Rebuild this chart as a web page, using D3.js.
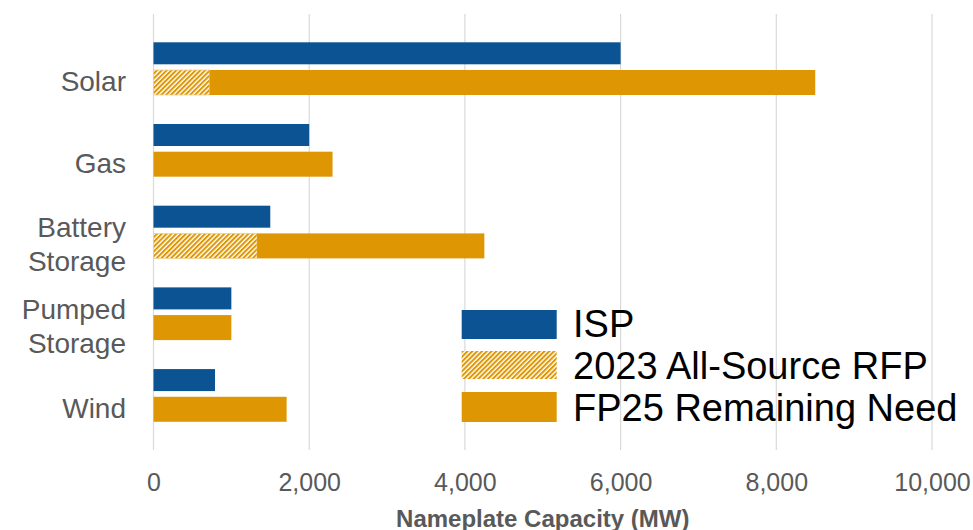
<!DOCTYPE html>
<html>
<head>
<meta charset="utf-8">
<script src="https://cdn.jsdelivr.net/npm/d3@7/dist/d3.min.js"></script>
<style>
  html, body { margin: 0; padding: 0; background: #ffffff; }
  svg { display: block; font-family: "Liberation Sans", Arial, sans-serif; }
</style>
</head>
<body>
<svg id="chart" width="973" height="530"></svg>
<script>
// Resource categories (top to bottom); multi-line labels split on "\n"
const categories = ["Solar", "Gas", "Battery\nStorage", "Pumped\nStorage", "Wind"];
// Nameplate capacity, MW
const ispValues = [6000, 2000, 1500, 1000, 790];
const rfpValues = [720, 0, 1330, 0, 0];          // 2023 All-Source RFP portion
const remainingValues = [7780, 2300, 2920, 1000, 1710]; // FP25 remaining need beyond the RFP
const xTicks = [0, 2000, 4000, 6000, 8000, 10000];
const legendLabels = ["ISP", "2023 All-Source RFP", "FP25 Remaining Need"];

const BLUE = "#0B5393";
const ORANGE = "#DE9703";
const GRID = "#d9d9d9";
const TEXT_GRAY = "#595959";

const svg = d3.select("#chart");

const x = d3.scaleLinear().domain([0, 10000]).range([153.5, 932]);
const y = d3.scaleBand()
  .domain(categories)
  .range([42.3, 422.1])
  .paddingInner(0.351)
  .paddingOuter(0);

// Hatch pattern for the RFP segment
const defs = svg.append("defs");
const pat = defs.append("pattern")
  .attr("id", "hatch")
  .attr("patternUnits", "userSpaceOnUse")
  .attr("width", 3.4)
  .attr("height", 3.4)
  .attr("patternTransform", "rotate(45)");
pat.append("rect").attr("width", 3.4).attr("height", 3.4).attr("fill", "#ffffff");
pat.append("rect").attr("width", 2.0).attr("height", 3.4).attr("fill", ORANGE);

// Vertical gridlines
svg.append("g")
  .selectAll("line")
  .data(xTicks)
  .join("line")
  .attr("x1", d => x(d)).attr("x2", d => x(d))
  .attr("y1", 14).attr("y2", 450)
  .attr("stroke", GRID)
  .attr("stroke-width", 1.2);

// Bars
const ispH = 22;
const fpTop = 27.7;
const fpH = 25;

const rows = categories.map((c, i) => ({
  cat: c,
  isp: ispValues[i],
  rfp: rfpValues[i],
  rem: remainingValues[i]
}));

const bars = svg.append("g");
bars.selectAll(".isp")
  .data(rows)
  .join("rect")
  .attr("class", "isp")
  .attr("x", x(0))
  .attr("y", d => y(d.cat))
  .attr("width", d => x(d.isp) - x(0))
  .attr("height", ispH)
  .attr("fill", BLUE);

bars.selectAll(".rfp")
  .data(rows.filter(d => d.rfp > 0))
  .join("rect")
  .attr("class", "rfp")
  .attr("x", x(0))
  .attr("y", d => y(d.cat) + fpTop)
  .attr("width", d => x(d.rfp) - x(0))
  .attr("height", fpH)
  .attr("fill", "url(#hatch)")
  .attr("stroke", "#f0cf8a")
  .attr("stroke-width", 0.8);

bars.selectAll(".rem")
  .data(rows)
  .join("rect")
  .attr("class", "rem")
  .attr("x", d => x(d.rfp))
  .attr("y", d => y(d.cat) + fpTop)
  .attr("width", d => x(d.rfp + d.rem) - x(d.rfp))
  .attr("height", fpH)
  .attr("fill", ORANGE);

// Category labels
const labelG = svg.append("g");
rows.forEach(d => {
  const lines = d.cat.split("\n");
  const cy = y(d.cat) + y.bandwidth() / 2 + 12;
  const lh = 34;
  const t = labelG.append("text")
    .attr("text-anchor", "end")
    .attr("font-size", 28)
    .attr("fill", TEXT_GRAY);
  lines.forEach((ln, k) => {
    t.append("tspan")
      .attr("x", 126)
      .attr("y", cy + (k - (lines.length - 1) / 2) * lh + 10)
      .text(ln);
  });
});

// X tick labels
const xAxis = d3.axisBottom(x)
  .tickValues(xTicks)
  .tickSize(0)
  .tickPadding(0)
  .tickFormat(d3.format(","));
const axG = svg.append("g")
  .attr("transform", "translate(0,473)")
  .call(xAxis);
axG.select(".domain").remove();
axG.selectAll("text")
  .attr("font-family", "'Liberation Sans', Arial, sans-serif")
  .attr("font-size", 25)
  .attr("fill", TEXT_GRAY);

// Axis title
svg.append("text")
  .attr("x", (x(0) + x(10000)) / 2)
  .attr("y", 527)
  .attr("text-anchor", "middle")
  .attr("font-size", 24)
  .attr("font-weight", "bold")
  .attr("fill", TEXT_GRAY)
  .text("Nameplate Capacity (MW)");

// Legend
const legend = svg.append("g");
const legendFills = [BLUE, "url(#hatch)", ORANGE];
const swY = [310, 351, 392];
const swH = [29, 28, 30];
legendLabels.forEach((lab, i) => {
  legend.append("rect")
    .attr("x", 461.7)
    .attr("y", swY[i])
    .attr("width", 95)
    .attr("height", swH[i])
    .attr("fill", legendFills[i]);
  legend.append("text")
    .attr("x", 573)
    .attr("y", [337, 379, 421][i])
    .attr("font-size", 38)
    .attr("fill", "#000000")
    .text(lab);
});
</script>
</body>
</html>
